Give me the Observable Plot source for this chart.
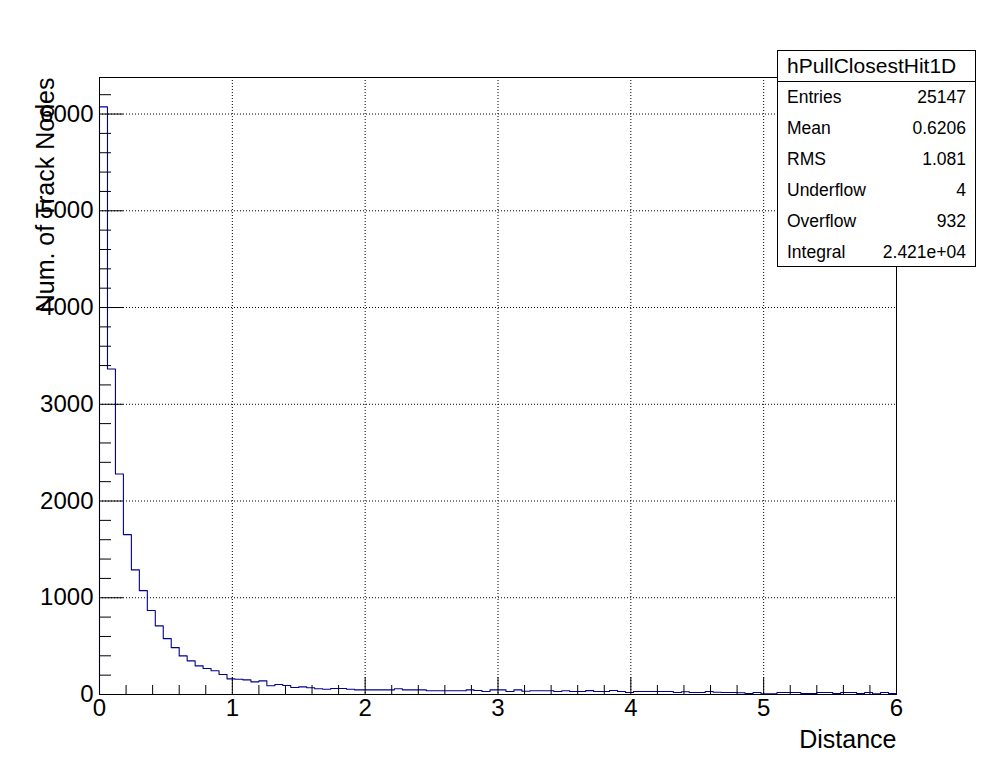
<!DOCTYPE html>
<html>
<head>
<meta charset="utf-8">
<script src="https://cdn.jsdelivr.net/npm/d3@7"></script>
<script src="https://cdn.jsdelivr.net/npm/@observablehq/plot@0.6"></script>
<style>
  body { margin: 0; background: #fff; }
  #wrap { position: relative; width: 996px; height: 772px; font-family: "Liberation Sans", Arial, Helvetica, sans-serif; }
  #stats { position: absolute; left: 777px; top: 50px; width: 199px; height: 217px; border: 1px solid #000; box-sizing: border-box; background: #fff; }
  #stats .title { height: 31px; line-height: 30px; text-align: left; padding-left: 9px; font-size: 21px; border-bottom: 1px solid #000; box-sizing: border-box; }
  #stats .row { height: 31px; line-height: 31px; font-size: 17.5px; display: flex; justify-content: space-between; padding: 0 9px 0 9px; }
</style>
</head>
<body>
<div id="wrap"><div id="chart"></div><div id="stats"></div></div>
<script>
// ---- data ----
const xRange = [0, 6];
const counts = [
  6074, 3364, 2280, 1653, 1288, 1074, 868, 709, 578, 485,
  399, 348, 296, 268, 245, 207, 162, 158, 151, 131,
  141, 90, 103, 93, 72, 79, 70, 59, 55, 62,
  62, 55, 48, 48, 48, 48, 48, 59, 48, 48,
  48, 38, 38, 38, 38, 38, 48, 41, 31, 48,
  48, 31, 48, 34, 38, 38, 38, 31, 38, 31,
  31, 40, 31, 31, 41, 31, 21, 31, 31, 31,
  31, 31, 21, 28, 21, 21, 31, 24, 21, 21,
  18, 10, 21, 7, 7, 21, 21, 21, 10, 10,
  21, 21, 10, 21, 21, 10, 21, 7, 21, 10
];
const xMajorTicks = [0, 1, 2, 3, 4, 5, 6];
const xMinorTicks = [0.2,0.4,0.6,0.8,1.2,1.4,1.6,1.8,2.2,2.4,2.6,2.8,3.2,3.4,3.6,3.8,4.2,4.4,4.6,4.8,5.2,5.4,5.6,5.8];
const yMajorTicks = [0, 1000, 2000, 3000, 4000, 5000, 6000];
const yMinorTicks = [200,400,600,800,1200,1400,1600,1800,2200,2400,2600,2800,3200,3400,3600,3800,4200,4400,4600,4800,5200,5400,5600,5800,6200];
const xTitle = "Distance";
const yTitle = "Num. of Track Nodes";
const statsTitle = "hPullClosestHit1D";
const statsLabels = ["Entries", "Mean", "RMS", "Underflow", "Overflow", "Integral"];
const statsValues = ["25147", "0.6206", "1.081", "4", "932", "2.421e+04"];

// ---- build step outline ----
const nBins = counts.length;
const binWidth = (xRange[1] - xRange[0]) / nBins;
const steps = [{x: xRange[0], y: 0}]
  .concat(counts.map((c, i) => ({x: xRange[0] + i * binWidth, y: c})))
  .concat([{x: xRange[1], y: counts[nBins - 1]}, {x: xRange[1], y: 0}]);

const font = "'Liberation Sans', Arial, Helvetica, sans-serif";
const fmt = d3.format("d");

const chart = Plot.plot({
  width: 996,
  height: 772,
  marginLeft: 99,
  marginRight: 100,
  marginTop: 77,
  marginBottom: 78,
  style: {fontFamily: font, background: "#fff", color: "#000"},
  x: {domain: xRange},
  y: {domain: [0, d3.max(counts) * 1.05]},
  marks: [
    Plot.gridX(xMajorTicks.filter(v => v > xRange[0] && v < xRange[1]), {stroke: "#000", strokeOpacity: 1, strokeDasharray: "1,2"}),
    Plot.gridY(yMajorTicks.filter(v => v > 0), {stroke: "#000", strokeOpacity: 1, strokeDasharray: "1,2"}),
    Plot.line(steps, {x: "x", y: "y", curve: "step-after", stroke: "#00008f", strokeWidth: 1.1}),
    Plot.axisX(xMinorTicks, {tickSize: -9, tickFormat: () => "", label: null, stroke: "#000"}),
    Plot.axisX(xMajorTicks, {tickSize: -17, tickPadding: 21, fontSize: 24, label: null, tickFormat: fmt, stroke: "#000", fill: "#000"}),
    Plot.axisY(yMinorTicks, {tickSize: -12, tickFormat: () => "", label: null, stroke: "#000"}),
    Plot.axisY(yMajorTicks, {tickSize: -24, tickPadding: 30, fontSize: 24, label: null, tickFormat: fmt, stroke: "#000", fill: "#000"}),
    Plot.frame({stroke: "#000"}),
    Plot.text([xTitle], {frameAnchor: "bottom-right", dy: 53, textAnchor: "end", fontSize: 25, fill: "#000"}),
    Plot.text([yTitle], {frameAnchor: "top-left", dx: -63, rotate: -90, textAnchor: "end", fontSize: 25, fill: "#000"})
  ]
});
document.getElementById("chart").appendChild(chart);

// ---- stats box ----
const stats = document.getElementById("stats");
const t = document.createElement("div");
t.className = "title";
t.textContent = statsTitle;
stats.appendChild(t);
statsLabels.forEach((lab, i) => {
  const r = document.createElement("div");
  r.className = "row";
  const a = document.createElement("span"); a.textContent = lab;
  const b = document.createElement("span"); b.textContent = statsValues[i];
  r.appendChild(a); r.appendChild(b);
  stats.appendChild(r);
});
</script>
</body>
</html>
